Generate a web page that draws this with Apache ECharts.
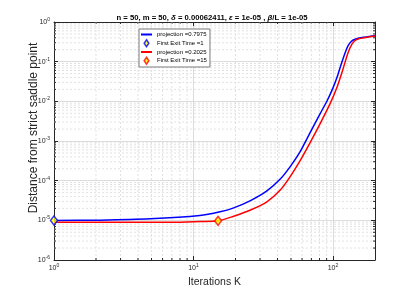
<!DOCTYPE html>
<html><head><meta charset="utf-8">
<script src="https://cdn.jsdelivr.net/npm/echarts@6/dist/echarts.min.js"></script>
<style>html,body{margin:0;padding:0;background:#fff}#c{width:415px;height:294px}</style>
</head><body><div id="c"></div>
<script>
// ---- data ----
const BLUE_K = [1, 2.14, 4.88, 11.1, 15.5, 19.2, 25.4, 33.6, 41.7, 49.2, 58.0, 68.4, 80.7, 90.6, 100, 107, 114, 122, 128, 135, 144, 161, 200];
const BLUE_V = [9.9e-6, 1.01e-5, 1.09e-5, 1.32e-5, 1.64e-5, 2.03e-5, 3.1e-5, 5.53e-5, 1.08e-4, 2.23e-4, 5.31e-4, 1.6e-3, 4.82e-3, 1.02e-2, 2.18e-2, 4.12e-2, 8.26e-2, 0.166, 0.249, 0.323, 0.367, 0.405, 0.452];
const RED_K = [1, 2.97, 7.1, 11.1, 15, 19.2, 25.4, 33.6, 41.7, 49.2, 58.0, 68.4, 80.7, 95.1, 107, 118, 128, 137, 144, 153, 172, 200];
const RED_V = [9.0e-6, 8.9e-6, 8.9e-6, 9.33e-6, 9.71e-6, 1.25e-5, 1.79e-5, 2.92e-5, 5.7e-5, 1.25e-4, 3.15e-4, 8.96e-4, 2.7e-3, 8.6e-3, 2.31e-2, 6.55e-2, 0.166, 0.279, 0.342, 0.377, 0.407, 0.444];
const BLUE_EXIT_K = [1];
const BLUE_EXIT_V = [9.9e-6];
const RED_EXIT_K = [15];
const RED_EXIT_V = [9.71e-6];
const SERIES_NAMES = ['projection =0.7975', 'First Exit Time =1', 'projection =0.2025', 'First Exit Time =15'];
const X_RANGE = [1, 200];
const Y_RANGE = [1e-6, 1];
const X_MINOR = [2, 3, 4, 5, 6, 7, 8, 9, 20, 30, 40, 50, 60, 70, 80, 90];
const Y_DECADES = [1e-6, 1e-5, 1e-4, 1e-3, 1e-2, 1e-1];
const MINOR_MULT = [2, 3, 4, 5, 6, 7, 8, 9];
const TITLE_PARTS = ['n = 50, m = 50, ', 'δ', ' = 0.00062411, ', 'ε', ' = 1e-05 , ', 'β', '/L = 1e-05'];
const X_NAME = 'Iterations K';
const Y_NAME = 'Distance from strict saddle point';

const zip = (a, b) => a.map((v, i) => [v, b[i]]);
const Y_MINOR = [];
Y_DECADES.forEach(d => MINOR_MULT.forEach(m => Y_MINOR.push(d * m)));
const AX = '#262626';
const FONT = 'Liberation Sans, Arial, Helvetica, sans-serif';
const MINOR_GRID = { stroke: '#e2e2e2', lineWidth: 1, lineDash: [2, 2] };

function powLabel(v) {
  const e = Math.round(Math.log10(v));
  if (Math.abs(Math.log10(v) - e) > 1e-6) return '';
  return '{b|10}{s|' + e + '}';
}
const labelRich = {
  b: { fontSize: 7, fontFamily: FONT, color: AX },
  s: { fontSize: 5, fontFamily: FONT, color: AX, padding: [0, 0, 5, 0] }
};

const titleText = TITLE_PARTS.map((t, i) => (i % 2 ? '{i|' + t + '}' : '{b|' + t + '}')).join('');
const lineIconHide = { color: 'rgba(0,0,0,0)', borderWidth: 0, opacity: 0 };

const chart = echarts.init(document.getElementById('c'), null, { renderer: 'canvas' });
chart.setOption({
  animation: false,
  backgroundColor: '#ffffff',
  title: {
    text: titleText,
    left: 207, top: 9, textAlign: 'center',
    textStyle: {
      rich: {
        b: { fontSize: 7.7, fontWeight: 'bold', fontFamily: FONT, color: '#000' },
        i: { fontSize: 7.7, fontWeight: 'bold', fontStyle: 'italic', fontFamily: FONT, color: '#000' }
      }
    }
  },
  legend: {
    data: [
      { name: SERIES_NAMES[0], itemStyle: lineIconHide },
      { name: SERIES_NAMES[1], icon: 'path://M4,0 L8,6 L4,12 L0,6 Z', itemStyle: { color: '#ffff00', borderColor: '#0000ff', borderWidth: 1.5 } },
      { name: SERIES_NAMES[2], itemStyle: lineIconHide },
      { name: SERIES_NAMES[3], icon: 'path://M4,0 L8,6 L4,12 L0,6 Z', itemStyle: { color: '#ffff00', borderColor: '#ff0000', borderWidth: 1.5 } }
    ],
    orient: 'vertical',
    left: 139, top: 29,
    padding: [2, 3, 2, 1],
    itemWidth: 11, itemHeight: 7, itemGap: 1,
    backgroundColor: '#ffffff',
    borderColor: '#7a7a7a', borderWidth: 1,
    textStyle: { fontSize: 6, fontFamily: FONT, color: '#000', lineHeight: 7 }
  },
  grid: { left: 54, right: 40, top: 22, bottom: 34, show: false },
  xAxis: [
    {
      type: 'log', logBase: 10, min: X_RANGE[0], max: X_RANGE[1], position: 'bottom',
      axisLine: { show: true, lineStyle: { color: AX, width: 1 } },
      axisTick: { show: true, inside: true, length: 4, lineStyle: { color: AX } },
      axisLabel: { formatter: powLabel, rich: labelRich, margin: 3, showMinLabel: true, showMaxLabel: true, hideOverlap: false },
      splitLine: { show: true, lineStyle: { color: '#dcdcdc', width: 1 } },
      minorTick: { show: false }, minorSplitLine: { show: false },
      name: X_NAME, nameLocation: 'middle', nameGap: 17, nameMoveOverlap: false,
      nameTextStyle: { fontSize: 10.5, fontFamily: FONT, color: AX }
    },
    {
      type: 'log', logBase: 10, min: X_RANGE[0], max: X_RANGE[1], position: 'top',
      axisLine: { show: true, lineStyle: { color: AX, width: 1 } },
      axisTick: { show: true, inside: true, length: 4, lineStyle: { color: AX } },
      axisLabel: { show: false }, splitLine: { show: false }
    }
  ],
  yAxis: [
    {
      type: 'log', logBase: 10, min: Y_RANGE[0], max: Y_RANGE[1], position: 'left',
      axisLine: { show: true, lineStyle: { color: AX, width: 1 } },
      axisTick: { show: true, inside: true, length: 4, lineStyle: { color: AX } },
      axisLabel: { formatter: powLabel, rich: labelRich, margin: 4, showMinLabel: true, showMaxLabel: true },
      splitLine: { show: true, lineStyle: { color: '#dcdcdc', width: 1 } },
      minorTick: { show: false }, minorSplitLine: { show: false },
      name: Y_NAME, nameLocation: 'middle', nameGap: 14, nameMoveOverlap: false,
      nameTextStyle: { fontSize: 12, fontFamily: FONT, color: AX, padding: [0, 0, 0, 26] }
    },
    {
      type: 'log', logBase: 10, min: Y_RANGE[0], max: Y_RANGE[1], position: 'right',
      axisLine: { show: true, lineStyle: { color: AX, width: 1 } },
      axisTick: { show: true, inside: true, length: 4, lineStyle: { color: AX } },
      axisLabel: { show: false }, splitLine: { show: false }
    }
  ],
  series: [
    {
      type: 'custom', name: 'minorX', silent: true, z: 1,
      xAxisIndex: 0, yAxisIndex: 0,
      data: X_MINOR.map(v => [v, Y_RANGE[0]]),
      renderItem: function (params, api) {
        const v = api.value(0);
        const pb = api.coord([v, Y_RANGE[0]]);
        const pt = api.coord([v, Y_RANGE[1]]);
        return {
          type: 'group',
          children: [
            { type: 'line', shape: { x1: pb[0], y1: pb[1], x2: pt[0], y2: pt[1] }, style: MINOR_GRID },
            { type: 'line', shape: { x1: pb[0], y1: pb[1], x2: pb[0], y2: pb[1] - 2 }, style: { stroke: AX, lineWidth: 1 } },
            { type: 'line', shape: { x1: pt[0], y1: pt[1], x2: pt[0], y2: pt[1] + 2 }, style: { stroke: AX, lineWidth: 1 } }
          ]
        };
      }
    },
    {
      type: 'custom', name: 'minorY', silent: true, z: 1,
      xAxisIndex: 0, yAxisIndex: 0,
      data: Y_MINOR.map(v => [X_RANGE[0], v]),
      renderItem: function (params, api) {
        const v = api.value(1);
        const pl = api.coord([X_RANGE[0], v]);
        const pr = api.coord([X_RANGE[1], v]);
        return {
          type: 'group',
          children: [
            { type: 'line', shape: { x1: pl[0], y1: pl[1], x2: pr[0], y2: pr[1] }, style: MINOR_GRID },
            { type: 'line', shape: { x1: pl[0], y1: pl[1], x2: pl[0] + 2, y2: pl[1] }, style: { stroke: AX, lineWidth: 1 } },
            { type: 'line', shape: { x1: pr[0], y1: pr[1], x2: pr[0] - 2, y2: pr[1] }, style: { stroke: AX, lineWidth: 1 } }
          ]
        };
      }
    },
    {
      type: 'line', name: SERIES_NAMES[0], data: zip(BLUE_K, BLUE_V), z: 3,
      symbol: 'none', smooth: 0.25,
      lineStyle: { color: '#0000ff', width: 1.5 }, itemStyle: { color: '#0000ff' }
    },
    {
      type: 'scatter', name: SERIES_NAMES[1], data: zip(BLUE_EXIT_K, BLUE_EXIT_V), z: 5, clip: false,
      symbol: 'diamond', symbolSize: [7, 9],
      itemStyle: { color: '#ffff00', borderColor: '#0000ff', borderWidth: 1.5 }
    },
    {
      type: 'line', name: SERIES_NAMES[2], data: zip(RED_K, RED_V), z: 4,
      symbol: 'none', smooth: 0.25,
      lineStyle: { color: '#ff0000', width: 1.5 }, itemStyle: { color: '#ff0000' }
    },
    {
      type: 'scatter', name: SERIES_NAMES[3], data: zip(RED_EXIT_K, RED_EXIT_V), z: 5, clip: false,
      symbol: 'diamond', symbolSize: [7, 9],
      itemStyle: { color: '#ffff00', borderColor: '#ff0000', borderWidth: 1.5 }
    }
  ]
});
</script>
</body></html>
